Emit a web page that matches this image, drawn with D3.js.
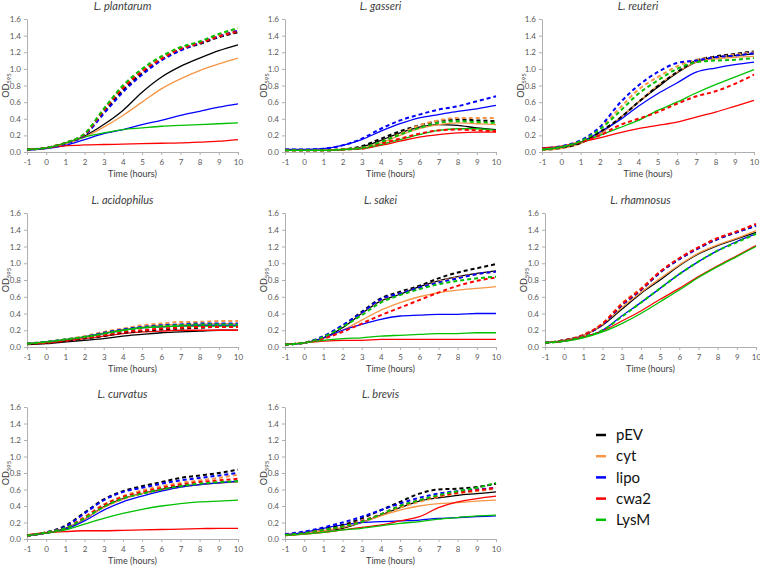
<!DOCTYPE html>
<html>
<head>
<meta charset="utf-8">
<script src="https://cdn.jsdelivr.net/npm/d3@7"></script>
<style>
  html, body { margin: 0; padding: 0; background: #fff; }
  svg { display: block; font-family: Lato, "Liberation Sans", sans-serif; }
</style>
</head>
<body>
<svg id="chart" width="760" height="566"></svg>
<script>
// ---------- data ----------
const hours = [-1, 0, 1, 2, 3, 4, 5, 6, 7, 8, 9, 10];
const xTicks = [-1, 0, 1, 2, 3, 4, 5, 6, 7, 8, 9, 10];
const yTicks = [0, 0.2, 0.4, 0.6, 0.8, 1.0, 1.2, 1.4, 1.6];
const constructs = ["pEV", "cyt", "lipo", "cwa2", "LysM"];
const strains = ["L. plantarum", "L. gasseri", "L. reuteri", "L. acidophilus",
                 "L. sakei", "L. rhamnosus", "L. curvatus", "L. brevis"];

// rows: pEV, cyt, lipo, cwa2, LysM
const plantarumSolid = [
  [0.03,0.05,0.10,0.19,0.33,0.50,0.72,0.90,1.03,1.13,1.22,1.29],
  [0.03,0.05,0.10,0.18,0.30,0.44,0.60,0.76,0.88,0.98,1.06,1.13],
  [0.02,0.04,0.08,0.15,0.22,0.27,0.33,0.38,0.44,0.49,0.54,0.58],
  [0.03,0.05,0.075,0.085,0.09,0.095,0.10,0.105,0.11,0.12,0.13,0.15],
  [0.03,0.05,0.11,0.18,0.23,0.27,0.29,0.31,0.32,0.33,0.34,0.35]
];
const plantarumDashed = [
  [0.03,0.05,0.11,0.21,0.48,0.74,0.95,1.11,1.23,1.30,1.38,1.44],
  [0.03,0.05,0.11,0.22,0.51,0.79,0.99,1.14,1.25,1.32,1.41,1.48],
  [0.03,0.05,0.10,0.20,0.46,0.72,0.93,1.10,1.22,1.31,1.39,1.46],
  [0.03,0.05,0.11,0.21,0.50,0.77,0.97,1.12,1.24,1.31,1.39,1.45],
  [0.03,0.05,0.11,0.22,0.52,0.80,1.00,1.15,1.26,1.33,1.42,1.49]
];
const gasseriSolid = [
  [0.03,0.02,0.02,0.03,0.06,0.14,0.23,0.30,0.33,0.32,0.29,0.27],
  [0.03,0.02,0.02,0.03,0.05,0.11,0.20,0.28,0.33,0.35,0.34,0.33],
  [0.03,0.03,0.04,0.08,0.15,0.25,0.34,0.41,0.45,0.49,0.52,0.56],
  [0.02,0.02,0.02,0.03,0.04,0.08,0.13,0.18,0.21,0.23,0.24,0.24],
  [0.02,0.02,0.02,0.03,0.04,0.09,0.15,0.21,0.26,0.28,0.28,0.26]
];
const gasseriDashed = [
  [0.02,0.02,0.02,0.03,0.07,0.16,0.25,0.32,0.37,0.39,0.38,0.37],
  [0.02,0.02,0.02,0.03,0.05,0.12,0.22,0.32,0.38,0.41,0.41,0.41],
  [0.03,0.03,0.04,0.08,0.16,0.28,0.38,0.45,0.51,0.55,0.61,0.67],
  [0.02,0.02,0.02,0.03,0.04,0.10,0.16,0.22,0.26,0.27,0.26,0.25],
  [0.02,0.02,0.02,0.03,0.05,0.12,0.21,0.29,0.35,0.37,0.36,0.35]
];
const reuteriSolid = [
  [0.03,0.05,0.11,0.22,0.40,0.60,0.78,0.95,1.08,1.14,1.16,1.18],
  [0.02,0.04,0.10,0.22,0.40,0.60,0.80,0.96,1.08,1.12,1.14,1.15],
  [0.03,0.06,0.12,0.24,0.38,0.55,0.70,0.83,0.96,1.01,1.05,1.08],
  [0.05,0.07,0.12,0.17,0.23,0.28,0.32,0.36,0.42,0.48,0.55,0.62],
  [0.03,0.06,0.12,0.20,0.29,0.38,0.50,0.60,0.71,0.81,0.90,0.99]
];
const reuteriDashed = [
  [0.03,0.05,0.11,0.24,0.40,0.60,0.79,0.96,1.10,1.15,1.18,1.21],
  [0.03,0.06,0.13,0.28,0.52,0.75,0.90,1.03,1.11,1.14,1.17,1.20],
  [0.04,0.07,0.14,0.30,0.58,0.80,0.96,1.07,1.10,1.14,1.16,1.19],
  [0.04,0.06,0.12,0.20,0.32,0.40,0.48,0.58,0.67,0.73,0.82,0.93],
  [0.03,0.06,0.13,0.27,0.48,0.70,0.86,1.00,1.08,1.10,1.11,1.13]
];
const acidophilusSolid = [
  [0.03,0.04,0.06,0.08,0.10,0.13,0.15,0.17,0.18,0.19,0.20,0.20],
  [0.04,0.06,0.09,0.12,0.17,0.21,0.24,0.26,0.27,0.27,0.28,0.28],
  [0.04,0.06,0.08,0.12,0.16,0.20,0.23,0.24,0.25,0.26,0.26,0.26],
  [0.04,0.05,0.07,0.10,0.13,0.16,0.18,0.19,0.20,0.20,0.20,0.20],
  [0.04,0.06,0.09,0.12,0.16,0.20,0.23,0.24,0.25,0.25,0.25,0.25]
];
const acidophilusDashed = [
  [0.04,0.05,0.07,0.10,0.13,0.17,0.19,0.21,0.22,0.23,0.24,0.24],
  [0.04,0.06,0.09,0.13,0.18,0.22,0.26,0.28,0.30,0.30,0.31,0.31],
  [0.04,0.06,0.09,0.12,0.17,0.21,0.24,0.26,0.27,0.28,0.28,0.28],
  [0.04,0.05,0.08,0.11,0.14,0.18,0.20,0.22,0.23,0.24,0.24,0.24],
  [0.04,0.06,0.09,0.12,0.16,0.20,0.23,0.25,0.26,0.27,0.27,0.27]
];
const sakeiSolid = [
  [0.03,0.05,0.11,0.23,0.40,0.55,0.63,0.72,0.79,0.84,0.88,0.91],
  [0.03,0.05,0.10,0.20,0.32,0.44,0.53,0.60,0.65,0.68,0.70,0.72],
  [0.03,0.05,0.11,0.20,0.27,0.33,0.37,0.38,0.39,0.39,0.40,0.40],
  [0.03,0.05,0.07,0.08,0.08,0.09,0.09,0.09,0.09,0.09,0.09,0.09],
  [0.03,0.05,0.08,0.10,0.11,0.13,0.14,0.15,0.16,0.16,0.17,0.17]
];
const sakeiDashed = [
  [0.03,0.05,0.12,0.25,0.42,0.58,0.66,0.73,0.82,0.89,0.94,0.99],
  [0.03,0.05,0.12,0.25,0.40,0.56,0.64,0.71,0.78,0.83,0.87,0.90],
  [0.03,0.05,0.13,0.26,0.41,0.57,0.64,0.71,0.77,0.82,0.87,0.90],
  [0.03,0.05,0.10,0.18,0.28,0.38,0.47,0.56,0.65,0.73,0.79,0.83],
  [0.03,0.05,0.12,0.24,0.38,0.53,0.62,0.69,0.75,0.79,0.82,0.84]
];
const rhamnosusSolid = [
  [0.05,0.08,0.14,0.26,0.45,0.64,0.80,0.97,1.11,1.21,1.29,1.37],
  [0.05,0.08,0.14,0.27,0.47,0.65,0.82,0.98,1.12,1.22,1.30,1.39],
  [0.05,0.07,0.12,0.20,0.37,0.53,0.70,0.87,1.02,1.15,1.26,1.35],
  [0.05,0.07,0.12,0.19,0.31,0.43,0.57,0.70,0.84,0.97,1.09,1.21],
  [0.05,0.07,0.11,0.18,0.28,0.40,0.54,0.68,0.83,0.96,1.08,1.20]
];
const rhamnosusDashed = [
  [0.05,0.08,0.14,0.27,0.50,0.68,0.89,1.05,1.18,1.29,1.37,1.45],
  [0.05,0.08,0.15,0.28,0.52,0.70,0.90,1.06,1.19,1.30,1.38,1.46],
  [0.05,0.08,0.14,0.27,0.50,0.68,0.89,1.05,1.18,1.29,1.37,1.45],
  [0.05,0.08,0.14,0.28,0.51,0.69,0.90,1.06,1.19,1.30,1.38,1.47],
  [0.05,0.07,0.12,0.20,0.36,0.53,0.70,0.87,1.02,1.15,1.25,1.35]
];
const curvatusSolid = [
  [0.04,0.07,0.13,0.24,0.39,0.49,0.55,0.60,0.64,0.66,0.68,0.70],
  [0.04,0.07,0.12,0.24,0.38,0.48,0.55,0.59,0.63,0.66,0.68,0.69],
  [0.04,0.07,0.12,0.22,0.35,0.45,0.52,0.58,0.63,0.66,0.68,0.70],
  [0.05,0.08,0.09,0.10,0.10,0.105,0.11,0.115,0.12,0.125,0.13,0.13],
  [0.04,0.07,0.11,0.18,0.25,0.31,0.36,0.40,0.43,0.45,0.46,0.47]
];
const curvatusDashed = [
  [0.04,0.08,0.16,0.32,0.48,0.58,0.64,0.69,0.74,0.77,0.80,0.84],
  [0.04,0.08,0.14,0.27,0.42,0.52,0.59,0.64,0.68,0.71,0.74,0.78],
  [0.04,0.08,0.15,0.31,0.47,0.57,0.62,0.67,0.71,0.74,0.77,0.80],
  [0.04,0.08,0.13,0.26,0.41,0.51,0.57,0.62,0.66,0.69,0.71,0.73],
  [0.04,0.08,0.13,0.25,0.39,0.49,0.55,0.60,0.64,0.67,0.69,0.70]
];
const brevisSolid = [
  [0.05,0.07,0.10,0.13,0.20,0.29,0.38,0.46,0.50,0.53,0.55,0.57],
  [0.05,0.07,0.10,0.14,0.20,0.28,0.35,0.40,0.43,0.44,0.46,0.47],
  [0.05,0.08,0.13,0.17,0.20,0.21,0.22,0.23,0.25,0.26,0.27,0.28],
  [0.04,0.06,0.08,0.11,0.14,0.17,0.22,0.27,0.38,0.45,0.49,0.52],
  [0.04,0.06,0.08,0.11,0.13,0.16,0.19,0.21,0.24,0.26,0.28,0.29]
];
const brevisDashed = [
  [0.05,0.08,0.12,0.17,0.25,0.35,0.45,0.55,0.60,0.61,0.63,0.67],
  [0.05,0.07,0.11,0.15,0.21,0.29,0.38,0.45,0.51,0.55,0.58,0.61],
  [0.06,0.09,0.14,0.20,0.27,0.35,0.43,0.50,0.55,0.58,0.60,0.62],
  [0.05,0.07,0.11,0.15,0.22,0.30,0.40,0.47,0.52,0.56,0.59,0.62],
  [0.05,0.07,0.11,0.15,0.21,0.30,0.40,0.47,0.53,0.58,0.62,0.68]
];

const solidSets = [plantarumSolid, gasseriSolid, reuteriSolid, acidophilusSolid,
                   sakeiSolid, rhamnosusSolid, curvatusSolid, brevisSolid];
const dashedSets = [plantarumDashed, gasseriDashed, reuteriDashed, acidophilusDashed,
                    sakeiDashed, rhamnosusDashed, curvatusDashed, brevisDashed];

// ---------- styling / layout ----------
const colors = ["#000000", "#f79646", "#0000ff", "#ff0000", "#00c000"];
const layout = [
  { x0: 27,  x1: 238, y0: 152, y1: 19 },
  { x0: 285, x1: 496, y0: 152, y1: 19 },
  { x0: 542, x1: 754, y0: 152, y1: 19 },
  { x0: 27,  x1: 238, y0: 347, y1: 213 },
  { x0: 285, x1: 496, y0: 347, y1: 213 },
  { x0: 545, x1: 756, y0: 347, y1: 213 },
  { x0: 27,  x1: 238, y0: 539, y1: 407 },
  { x0: 285, x1: 496, y0: 539, y1: 407 }
];

const svg = d3.select("#chart");
const tickColor = "#595959";
const axisColor = "#b0b0b0";

strains.forEach((name, i) => {
  const L = layout[i];
  const x = d3.scaleLinear().domain([-1, 10]).range([L.x0, L.x1]);
  const y = d3.scaleLinear().domain([0, 1.6]).range([L.y0, L.y1]);
  const g = svg.append("g");

  // axes
  const xa = g.append("g").attr("transform", `translate(0,${L.y0})`)
    .call(d3.axisBottom(x).tickValues(xTicks).tickSize(3).tickSizeOuter(0)
      .tickFormat(d => String(d)));
  const ya = g.append("g").attr("transform", `translate(${L.x0},0)`)
    .call(d3.axisLeft(y).tickValues(yTicks).tickSize(3).tickSizeOuter(0)
      .tickFormat(d3.format(".1f")));
  [xa, ya].forEach(a => {
    a.select(".domain").attr("stroke", axisColor).attr("stroke-width", 1);
    a.selectAll(".tick line").attr("stroke", axisColor);
    a.selectAll(".tick text").attr("fill", tickColor)
      .style("font-size", "8px").style("font-family", "Lato, 'Liberation Sans', sans-serif");
  });
  xa.selectAll(".tick text").attr("dy", "0.9em");

  // titles
  g.append("text")
    .attr("x", (L.x0 + L.x1) / 2 - 10)
    .attr("y", L.y1 - 9)
    .attr("text-anchor", "middle")
    .attr("font-style", "italic")
    .attr("font-size", 11)
    .attr("fill", "#404040")
    .text(name);
  g.append("text")
    .attr("x", (L.x0 + L.x1) / 2)
    .attr("y", L.y0 + 25)
    .attr("text-anchor", "middle")
    .attr("font-size", 9)
    .attr("fill", "#404040")
    .text("Time (hours)");
  const yl = g.append("text")
    .attr("transform", `translate(${L.x0 - 18},${(L.y0 + L.y1) / 2}) rotate(-90)`)
    .attr("text-anchor", "middle")
    .attr("font-size", 9)
    .attr("fill", "#404040");
  yl.append("tspan").text("OD");
  yl.append("tspan").attr("font-size", 6).attr("dy", 2).text("595");

  // lines
  const line = d3.line()
    .x((d, k) => x(hours[k]))
    .y(d => y(d))
    .curve(d3.curveMonotoneX);

  solidSets[i].forEach((vals, c) => {
    g.append("path").datum(vals)
      .attr("d", line)
      .attr("fill", "none")
      .attr("stroke", colors[c])
      .attr("stroke-width", 1.3);
  });
  dashedSets[i].forEach((vals, c) => {
    g.append("path").datum(vals)
      .attr("d", line)
      .attr("fill", "none")
      .attr("stroke", colors[c])
      .attr("stroke-width", 2)
      .attr("stroke-dasharray", "4,3");
  });
});

// legend
const legend = svg.append("g").attr("transform", "translate(596,435)");
constructs.forEach((c, i) => {
  const row = legend.append("g").attr("transform", `translate(0,${i * 21.2})`);
  row.append("line").attr("x1", 0).attr("x2", 10).attr("y1", 0).attr("y2", 0)
    .attr("stroke", colors[i]).attr("stroke-width", 2.5);
  row.append("text").attr("x", 20).attr("y", 0).attr("dy", "0.35em")
    .attr("font-size", 15).attr("fill", "#111").text(c);
});
</script>
</body>
</html>
